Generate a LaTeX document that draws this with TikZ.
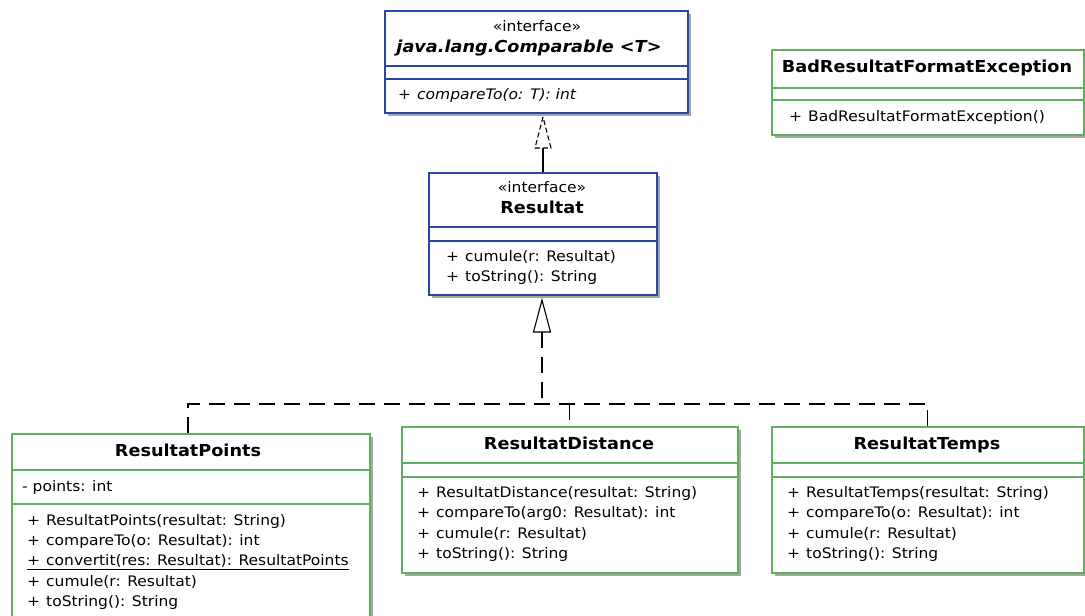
\documentclass[tikz,border=0pt]{standalone}
\usepackage{fontspec}
\setmainfont[FakeStretch=1.07]{DejaVu Sans}
\usetikzlibrary{shadows}
\definecolor{ifblue}{RGB}{40,70,165}
\definecolor{clgreen}{RGB}{95,175,95}
\tikzset{
 box/.style={draw=#1, line width=1.7pt, fill=white, anchor=north west, inner sep=0pt,
   drop shadow={shadow xshift=3pt, shadow yshift=-3pt, fill=black!50, opacity=0.7}},
 sep/.style={draw=#1, line width=1.5pt},
 txt/.style={inner sep=0pt, font=\fontsize{14.5}{17}\selectfont},
 ttl/.style={inner sep=0pt, anchor=base, font=\fontsize{16.5}{19}\selectfont\bfseries},
 meth/.style={txt, anchor=west},
 conn/.style={draw=black, line width=1.1pt},
 dconn/.style={conn, dash pattern=on 16pt off 9pt},
}
\newcommand{\mth}[1]{\makebox[19pt][l]{+}#1}
\begin{document}
\begin{tikzpicture}[x=1pt,y=1pt]
\useasboundingbox (0,0) rectangle (1085,-616);
% boxes
\node[box=ifblue, minimum width=303pt, minimum height=102pt] (comp) at (384,-10) {};
\node[box=ifblue, minimum width=228pt, minimum height=122pt] (res) at (428,-172) {};
\node[box=clgreen, minimum width=312pt, minimum height=85pt] (bad) at (771,-49) {};
\node[box=clgreen, minimum width=358pt, minimum height=200pt] (rp) at (11,-433) {};
\node[box=clgreen, minimum width=336pt, minimum height=146pt] (rd) at (401,-426) {};
\node[box=clgreen, minimum width=312pt, minimum height=146pt] (rt) at (771,-426) {};
% separators
\draw[sep=ifblue] (384,-66) -- (687,-66) (384,-79) -- (687,-79);
\draw[sep=ifblue] (428,-227) -- (656,-227) (428,-241) -- (656,-241);
\draw[sep=clgreen] (771,-88) -- (1083,-88) (771,-100) -- (1083,-100);
\draw[sep=clgreen] (11,-470) -- (369,-470) (11,-504) -- (369,-504);
\draw[sep=clgreen] (401,-463) -- (737,-463) (401,-477) -- (737,-477);
\draw[sep=clgreen] (771,-463) -- (1083,-463) (771,-477) -- (1083,-477);
% Comparable
\node[txt, anchor=base] (compst) at (537,-31) {«interface»};
\node[ttl] (compname) at (529,-52) {\itshape java.lang.Comparable <T>};
\node[meth] (compm1) at (398,-95) {\mth{\textit{compareTo(o: T): int}}};
% Resultat
\node[txt, anchor=base] (resst) at (542,-192) {«interface»};
\node[ttl] (resname) at (542,-213) {Resultat};
\node[meth] (resm1) at (446,-257) {\mth{cumule(r: Resultat)}};
\node[meth] (resm2) at (446,-277) {\mth{toString(): String}};
% Bad
\node[ttl] (badname) at (927,-72) {BadResultatFormatException};
\node[meth] (badm1) at (789,-117) {\mth{BadResultatFormatException()}};
% ResultatPoints
\node[ttl] (rpname) at (188,-456) {ResultatPoints};
\node[meth] (rpa1) at (22,-487) {- points: int};
\node[meth] (rpm1) at (27,-521) {\mth{ResultatPoints(resultat: String)}};
\node[meth] (rpm2) at (27,-541) {\mth{compareTo(o: Resultat): int}};
\node[meth] (rpm3) at (27,-562) {\underline{\mth{convertit(res: Resultat): ResultatPoints}}};
\node[meth] (rpm4) at (27,-582) {\mth{cumule(r: Resultat)}};
\node[meth] (rpm5) at (27,-602) {\mth{toString(): String}};
% ResultatDistance
\node[ttl] (rdname) at (569,-449) {ResultatDistance};
\node[meth] (rdm1) at (417,-493) {\mth{ResultatDistance(resultat: String)}};
\node[meth] (rdm2) at (417,-513) {\mth{compareTo(arg0: Resultat): int}};
\node[meth] (rdm3) at (417,-534) {\mth{cumule(r: Resultat)}};
\node[meth] (rdm4) at (417,-554) {\mth{toString(): String}};
% ResultatTemps
\node[ttl] (rtname) at (927,-449) {ResultatTemps};
\node[meth] (rtm1) at (787,-493) {\mth{ResultatTemps(resultat: String)}};
\node[meth] (rtm2) at (787,-513) {\mth{compareTo(o: Resultat): int}};
\node[meth] (rtm3) at (787,-534) {\mth{cumule(r: Resultat)}};
\node[meth] (rtm4) at (787,-554) {\mth{toString(): String}};
% connectors
\coordinate (t1tip) at (543,-117);
\coordinate (t1base) at (543,-148);
\draw[conn] (res.north -| t1base) -- (t1base);
\draw[conn, dash pattern=on 5pt off 3pt] (t1tip) -- ++(-8,-31) -- ++(16,0) -- cycle;
\coordinate (t2tip) at (542,-300);
\coordinate (t2base) at (542,-332);
\coordinate (bus) at (542,-404);
\draw[conn] (t2tip) -- ++(-8.5,-32) -- ++(17,0) -- cycle;
\draw[dconn] (t2base) -- (bus);
\draw[dconn] (rp.north -| 188,0) -- (bus -| 188,0) -- (bus -| rt.north) -- (rt.north);
\draw[dconn] (bus -| rd.north) -- (rd.north);
\end{tikzpicture}
\end{document}
